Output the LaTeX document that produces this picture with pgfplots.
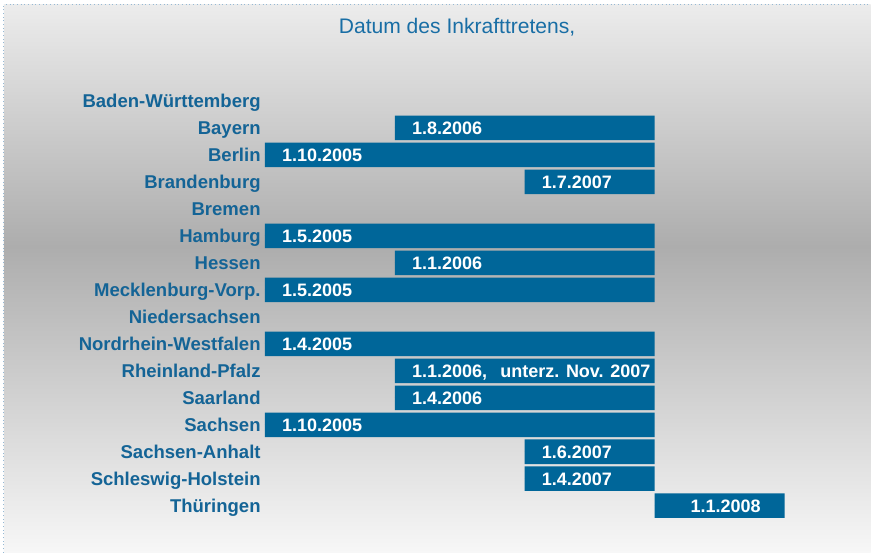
\documentclass[border=0pt]{standalone}
\usepackage{pgfplots}
\pgfplotsset{compat=1.18}
\usepackage{fontspec}
\setmainfont{Liberation Sans}
\definecolor{barblue}{RGB}{0,102,153}
\definecolor{txtblue}{RGB}{20,100,150}
\definecolor{ttlblue}{RGB}{25,110,165}
\definecolor{dotblue}{RGB}{150,185,212}
\definecolor{bgtop}{RGB}{236,236,236}
\definecolor{bgmid}{RGB}{173,173,173}
\definecolor{bgbot}{RGB}{247,247,247}
\pgfdeclareverticalshading{bgshade}{100bp}{color(0bp)=(bgbot); color(25bp)=(bgbot); color(53bp)=(bgmid); color(75bp)=(bgtop); color(100bp)=(bgtop)}
\pgfplotsset{rows/.style={
  at={(198.75pt,-65.625pt)},anchor=north west,
  scale only axis,width=390pt,height=324pt,
  xmin=0,xmax=4,ymin=-0.5,ymax=15.5,
  y dir=reverse}}

\begin{document}
\begin{tikzpicture}[x=1pt,y=1pt]
% page background, gradient panel and dotted frame
\fill[white] (0,0) rectangle (653.25,-414.75);
\shade[shading=bgshade] (3,-3.75) rectangle (653.25,-414.75);
\draw[dotblue,dotted,line width=0.75pt] (3,-414.75) -- (3,-3.75) -- (653.25,-3.75);
\node[ttlblue,font=\fontsize{15.8}{18}\selectfont] at (343,-20.25) {Datum des Inkrafttretens,};

\begin{axis}[rows,
  xbar stacked,bar width=18.4pt,
  axis line style={draw=none},
  xtick=\empty,
  ytick={0,...,15},
  yticklabels={Baden-Württemberg,Bayern,Berlin,Brandenburg,Bremen,Hamburg,Hessen,
    Mecklenburg-Vorp.,Niedersachsen,Nordrhein-Westfalen,Rheinland-Pfalz,Saarland,
    Sachsen,Sachsen-Anhalt,Schleswig-Holstein,Thüringen},
  major tick length=0pt,
  yticklabel style={font=\bfseries\fontsize{13.9}{16}\selectfont,text=txtblue,
    anchor=base east,inner sep=0pt,xshift=-3pt,yshift=-4.8pt}]
% invisible offset = start column (0 = 2005, 1 = 2006, 2 = 2007, 3 = 2008)
\addplot[fill=none,draw=none] coordinates {
  (1,1) (0,2) (2,3) (0,5) (1,6) (0,7) (0,9) (1,10) (1,11) (0,12) (2,13) (2,14) (3,15)
  };
% visible bars
\addplot[fill=barblue,draw=none] coordinates {
  (2,1) (3,2) (1,3) (3,5) (2,6) (3,7) (3,9) (2,10) (2,11) (3,12) (1,13) (1,14) (1,15)
  };
\end{axis}

% date labels at the start of each bar
\begin{axis}[rows,hide axis]
\addplot[draw=none,only marks,mark=*,mark size=0pt,mark options={draw=none,fill=none},
  point meta=explicit symbolic,nodes near coords,
  nodes near coords style={font=\bfseries\fontsize{13.5}{16}\selectfont,text=white,
    anchor=base west,inner sep=0pt,xshift=12.75pt,yshift=-4.8pt}]
  coordinates {
  (1,1) [1.8.2006]
  (0,2) [1.10.2005]
  (2,3) [1.7.2007]
  (0,5) [1.5.2005]
  (1,6) [1.1.2006]
  (0,7) [1.5.2005]
  (0,9) [1.4.2005]
  (1,10) [{1.1.2006,\hspace{10pt}unterz. Nov. 2007}]
  (1,11) [1.4.2006]
  (0,12) [1.10.2005]
  (2,13) [1.6.2007]
  (2,14) [1.4.2007]
  (3,15) [{\hspace{14pt}1.1.2008}]
  };
\end{axis}
\end{tikzpicture}
\end{document}
